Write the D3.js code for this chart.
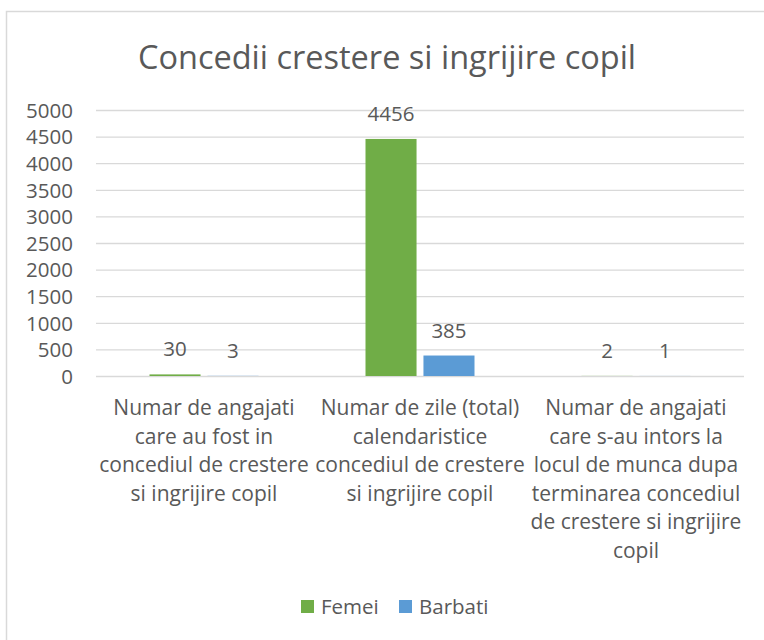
<!DOCTYPE html>
<html>
<head>
<meta charset="utf-8">
<script src="https://cdn.jsdelivr.net/npm/d3@7/dist/d3.min.js"></script>
<style>
  html, body { margin: 0; padding: 0; background: #ffffff; }
  svg { display: block; }
  text { font-family: "Open Sans", "Noto Sans", sans-serif; fill: #595959; }
</style>
</head>
<body>
<svg id="chart" width="764" height="640"></svg>
<script>
const title = "Concedii crestere si ingrijire copil";
const categories = [
  ["Numar de angajati", "care au fost in", "concediul de crestere", "si ingrijire copil"],
  ["Numar de zile (total)", "calendaristice", "concediul de crestere", "si ingrijire copil"],
  ["Numar de angajati", "care s-au intors la", "locul de munca dupa", "terminarea concediul", "de crestere si ingrijire", "copil"]
];
const seriesNames = ["Femei", "Barbati"];
const femei = [30, 4456, 2];
const barbati = [3, 385, 1];
const yTicks = [0, 500, 1000, 1500, 2000, 2500, 3000, 3500, 4000, 4500, 5000];
const colors = ["#70AD47", "#5B9BD5"];

const svg = d3.select("#chart");
const plot = { left: 96, right: 744, top: 110, bottom: 376 };

// chart area border
svg.append("rect")
  .attr("x", 6.5).attr("y", 11.5)
  .attr("width", 900).attr("height", 900)
  .attr("fill", "#ffffff")
  .attr("stroke", "#d9d9d9").attr("stroke-width", 1.5);

svg.append("text")
  .attr("x", 387).attr("y", 69)
  .attr("text-anchor", "middle")
  .style("font-size", "32.5px")
  .text(title);

const catIdx = d3.range(categories.length);
const x0 = d3.scaleBand().domain(catIdx).range([plot.left, plot.right]).paddingInner(0).paddingOuter(0);
const y = d3.scaleLinear().domain([0, 5000]).range([plot.bottom, plot.top]);

const barW = 48, barGap = 13;
const x1 = d3.scaleBand().domain(seriesNames).range([0, barW * 2 + barGap]).paddingInner(barGap / (barW * 2 + barGap));

// gridlines + tick labels
const yAxis = d3.axisLeft(y).tickValues(yTicks).tickSize(-(plot.right - plot.left)).tickPadding(23).tickFormat(d3.format("d"));
const gAxis = svg.append("g").attr("transform", `translate(${plot.left},0)`).call(yAxis);
gAxis.select(".domain").remove();
gAxis.selectAll(".tick line").attr("stroke", "#d9d9d9").attr("stroke-width", 1.3);
gAxis.selectAll(".tick text")
  .style("font-size", "20.5px")
  .attr("fill", "#595959")
  .attr("dy", "0.36em");

// bars
const data = catIdx.map(i => ({ i, values: [femei[i], barbati[i]] }));
const groups = svg.append("g").selectAll("g")
  .data(data).join("g")
  .attr("transform", d => `translate(${x0(d.i) + x0.bandwidth() / 2 - (barW * 2 + barGap) / 2},0)`);

groups.selectAll("rect")
  .data(d => d.values.map((v, k) => ({ v, k })))
  .join("rect")
  .attr("x", d => x1(seriesNames[d.k]))
  .attr("width", x1.bandwidth())
  .attr("y", d => y(d.v))
  .attr("height", d => y(0) - y(d.v))
  .attr("fill", d => colors[d.k]);

groups.selectAll("text.lbl")
  .data(d => d.values.map((v, k) => ({ v, k })))
  .join("text")
  .attr("class", "lbl")
  .attr("x", d => x1(seriesNames[d.k]) + x1.bandwidth() / 2)
  .attr("y", d => y(d.v) - 18)
  .attr("text-anchor", "middle")
  .style("font-size", "20.5px")
  .text(d => d.v);

// category labels
const catG = svg.append("g").selectAll("text")
  .data(catIdx).join("text")
  .attr("text-anchor", "middle")
  .style("font-size", "21px");
catG.each(function (i) {
  const t = d3.select(this);
  categories[i].forEach((line, j) => {
    t.append("tspan")
      .attr("x", x0(i) + x0.bandwidth() / 2)
      .attr("y", 415 + j * 28.6)
      .text(line);
  });
});

// legend
const legend = svg.append("g");
const legendX = [301, 399];
seriesNames.forEach((name, k) => {
  legend.append("rect")
    .attr("x", legendX[k]).attr("y", 600)
    .attr("width", 13).attr("height", 13)
    .attr("fill", colors[k]);
  legend.append("text")
    .attr("x", legendX[k] + 20).attr("y", 614)
    .style("font-size", "20.5px")
    .text(name);
});
</script>
</body>
</html>
